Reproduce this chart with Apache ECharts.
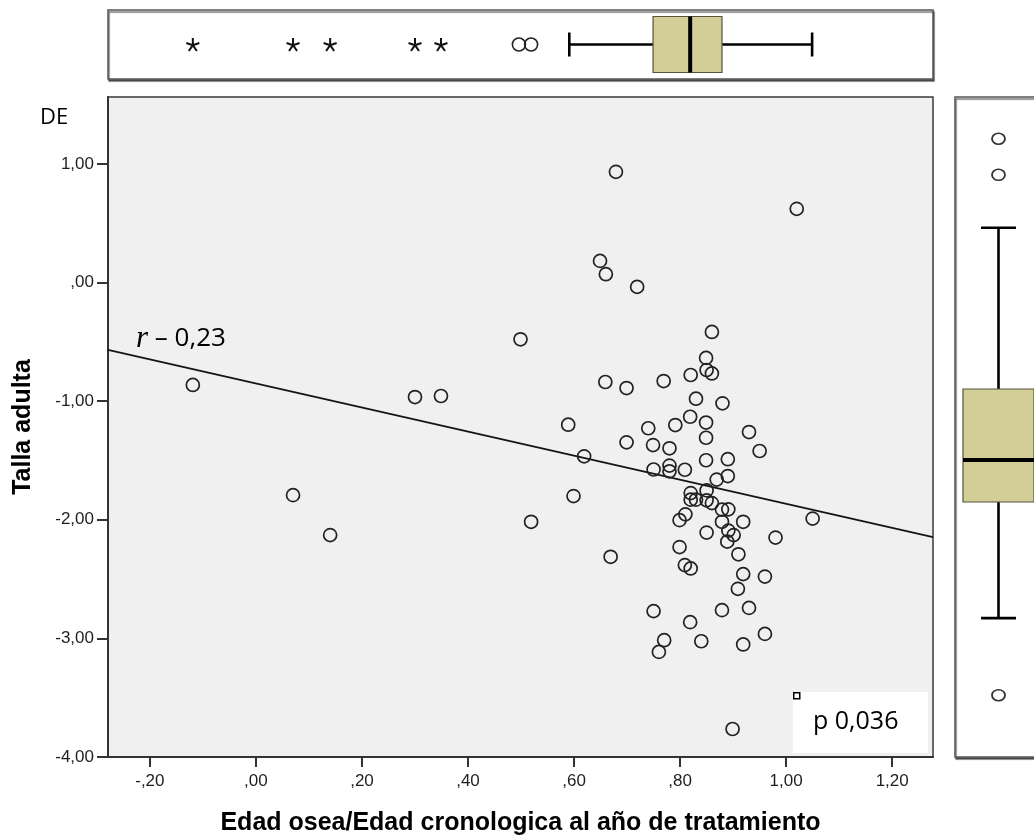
<!DOCTYPE html>
<html>
<head>
<meta charset="utf-8">
<script src="https://cdn.jsdelivr.net/npm/echarts@6/dist/echarts.min.js"></script>
<style>
html,body{margin:0;padding:0;background:#fff;}
#chart{width:1034px;height:840px;}
</style>
</head>
<body>
<div id="chart"></div>
<script>
// ---- data ----
const xTickValues = [-0.2, 0, 0.2, 0.4, 0.6, 0.8, 1.0, 1.2];
const xTickLabels = ['-,20', ',00', ',20', ',40', ',60', ',80', '1,00', '1,20'];
const yTickValues = [-4, -3, -2, -1, 0, 1];
const yTickLabels = ['-4,00', '-3,00', '-2,00', '-1,00', ',00', '1,00'];

const scatterX = [-0.119,0.070,0.140,0.300,0.349,0.499,0.519,0.589,0.599,0.619,0.679,0.649,0.660,0.719,0.659,0.699,0.699,0.669,0.769,0.860,0.849,0.850,0.860,0.820,0.830,0.880,0.819,0.849,0.791,0.740,0.930,0.950,0.749,0.780,0.849,0.849,0.890,0.750,0.780,0.780,0.809,0.890,0.869,1.020,0.820,0.850,0.820,0.830,0.850,0.860,0.879,0.891,0.810,0.799,0.879,0.919,1.050,0.850,0.891,0.901,0.889,0.980,0.799,0.910,0.809,0.820,0.919,0.960,0.909,0.750,0.879,0.930,0.819,0.770,0.760,0.840,0.919,0.960,0.899];
const scatterY = [-0.863,-1.792,-2.129,-0.965,-0.956,-0.478,-2.017,-1.198,-1.800,-1.465,0.934,0.183,0.071,-0.036,-0.838,-0.889,-1.347,-2.312,-0.830,-0.416,-0.635,-0.737,-0.766,-0.779,-0.979,-1.018,-1.131,-1.180,-1.201,-1.228,-1.260,-1.420,-1.370,-1.397,-1.308,-1.498,-1.489,-1.576,-1.543,-1.591,-1.578,-1.631,-1.661,0.622,-1.775,-1.752,-1.830,-1.830,-1.836,-1.859,-1.914,-1.912,-1.954,-2.003,-2.017,-2.017,-1.990,-2.108,-2.091,-2.129,-2.184,-2.150,-2.230,-2.291,-2.382,-2.410,-2.458,-2.479,-2.582,-2.770,-2.762,-2.743,-2.863,-3.015,-3.114,-3.024,-3.051,-2.962,-3.764];

// fit line end points (r = -0,23)
const fitLine = [[-0.279, -0.568], [1.277, -2.146]];

// marginal box plots: [lowWhisker, Q1, median, Q3, highWhisker]
const topBox = [0.591, 0.749, 0.819, 0.879, 1.049];
const topOutliers = [0.496, 0.519];
const topExtremes = [-0.119, 0.070, 0.140, 0.300, 0.349];
const rightBox = [-2.829, -1.850, -1.496, -0.897, 0.462];
const rightOutliers = [1.213, 0.909, -3.479];

const xLabel = 'Edad osea/Edad cronologica al año de tratamiento';
const yLabel = 'Talla adulta';

// ---- chart ----
const X_MIN = -0.279, X_MAX = 1.277, Y_MIN = -4, Y_MAX = 1.565;
const BOX_FILL = '#D3CE97';
const starPath = 'path://M0,0L0,-5M0,0L4.76,-1.55M0,0L2.94,4.05M0,0L-2.94,4.05M0,0L-4.76,-1.55';

function fmt(vals, labels) {
  return function (v) {
    const i = vals.findIndex(t => Math.abs(t - v) < 1e-6);
    return i >= 0 ? labels[i] : '';
  };
}

function boxRender(horizontal) {
  return function (params, api) {
    const cat = api.value(0);
    const v = [1, 2, 3, 4, 5].map(i => api.value(i));
    const P = v.map(val => horizontal ? api.coord([val, cat]) : api.coord([cat, val]));
    const half = horizontal ? 28 : 35.5;
    const cap = horizontal ? 12 : 17.5;
    const ls = { stroke: '#000', lineWidth: 2.6 };
    const kids = [];
    if (horizontal) {
      const cy = P[0][1];
      kids.push({ type: 'line', shape: { x1: P[0][0], y1: cy, x2: P[1][0], y2: cy }, style: ls });
      kids.push({ type: 'line', shape: { x1: P[3][0], y1: cy, x2: P[4][0], y2: cy }, style: ls });
      kids.push({ type: 'line', shape: { x1: P[0][0], y1: cy - cap, x2: P[0][0], y2: cy + cap }, style: ls });
      kids.push({ type: 'line', shape: { x1: P[4][0], y1: cy - cap, x2: P[4][0], y2: cy + cap }, style: ls });
      kids.push({ type: 'rect', shape: { x: P[1][0], y: cy - half, width: P[3][0] - P[1][0], height: 2 * half },
        style: { fill: BOX_FILL, stroke: '#55533c', lineWidth: 1.2 } });
      kids.push({ type: 'line', shape: { x1: P[2][0], y1: cy - half, x2: P[2][0], y2: cy + half }, style: { stroke: '#000', lineWidth: 4 } });
    } else {
      const cx = P[0][0];
      kids.push({ type: 'line', shape: { x1: cx, y1: P[0][1], x2: cx, y2: P[1][1] }, style: ls });
      kids.push({ type: 'line', shape: { x1: cx, y1: P[3][1], x2: cx, y2: P[4][1] }, style: ls });
      kids.push({ type: 'line', shape: { x1: cx - cap, y1: P[0][1], x2: cx + cap, y2: P[0][1] }, style: ls });
      kids.push({ type: 'line', shape: { x1: cx - cap, y1: P[4][1], x2: cx + cap, y2: P[4][1] }, style: ls });
      kids.push({ type: 'rect', shape: { x: cx - half, y: P[3][1], width: 2 * half, height: P[1][1] - P[3][1] },
        style: { fill: BOX_FILL, stroke: '#55533c', lineWidth: 1.2 } });
      kids.push({ type: 'line', shape: { x1: cx - half, y1: P[2][1], x2: cx + half, y2: P[2][1] }, style: { stroke: '#000', lineWidth: 4 } });
    }
    return { type: 'group', children: kids };
  };
}

const chart = echarts.init(document.getElementById('chart'), null, { renderer: 'canvas' });
const axisFont = { fontFamily: 'Liberation Sans, Arial, sans-serif', fontSize: 17, color: '#1e1e1e' };
const titleFont = { fontFamily: 'Liberation Sans, Arial, sans-serif', fontSize: 25, fontWeight: 'bold', color: '#000' };

const option = {
  animation: false,
  backgroundColor: '#ffffff',
  grid: [
    { left: 108, top: 97, width: 825, height: 660, show: true, backgroundColor: '#F0F0F0', borderColor: '#3a3a3a', borderWidth: 1.5,
      outerBoundsMode: 'none' },
    { left: 108, top: 10, width: 825, height: 69, show: true, backgroundColor: '#ffffff', borderColor: '#555', borderWidth: 1.5,
      shadowColor: 'rgba(0,0,0,0.55)', shadowOffsetX: 1, shadowOffsetY: 2, shadowBlur: 1, outerBoundsMode: 'none' },
    { left: 955, top: 97, width: 87, height: 660, show: true, backgroundColor: '#ffffff', borderColor: '#555', borderWidth: 1.5,
      shadowColor: 'rgba(0,0,0,0.55)', shadowOffsetX: 1, shadowOffsetY: 2, shadowBlur: 1, outerBoundsMode: 'none' }
  ],
  xAxis: [
    { gridIndex: 0, type: 'value', min: X_MIN, max: X_MAX,
      name: xLabel, nameLocation: 'middle', nameGap: 54, nameTextStyle: titleFont,
      axisLine: { show: true, onZero: false, lineStyle: { color: '#333', width: 2 } },
      axisTick: { show: true, length: 10, customValues: xTickValues, lineStyle: { color: '#333', width: 2 } },
      axisLabel: Object.assign({ customValues: xTickValues, margin: 16, formatter: fmt(xTickValues, xTickLabels) }, axisFont),
      splitLine: { show: false } },
    { gridIndex: 1, type: 'value', min: X_MIN, max: X_MAX, show: false, splitLine: { show: false } },
    { gridIndex: 2, type: 'category', data: [''], show: false }
  ],
  yAxis: [
    { gridIndex: 0, type: 'value', min: Y_MIN, max: Y_MAX,
      name: yLabel, nameLocation: 'middle', nameGap: 72, nameRotate: 90, nameTextStyle: titleFont,
      axisLine: { show: true, onZero: false, lineStyle: { color: '#333', width: 2 } },
      axisTick: { show: true, length: 11, customValues: yTickValues, lineStyle: { color: '#333', width: 2 } },
      axisLabel: Object.assign({ customValues: yTickValues, margin: 14, formatter: fmt(yTickValues, yTickLabels) }, axisFont),
      splitLine: { show: false } },
    { gridIndex: 1, type: 'category', data: [''], show: false },
    { gridIndex: 2, type: 'value', min: Y_MIN, max: Y_MAX, show: false, splitLine: { show: false } }
  ],
  series: [
    { type: 'line', xAxisIndex: 0, yAxisIndex: 0, data: fitLine, showSymbol: false, symbol: 'none',
      lineStyle: { color: '#151515', width: 1.8 }, z: 2, silent: true },
    { type: 'scatter', xAxisIndex: 0, yAxisIndex: 0,
      data: scatterX.map((x, i) => [x, scatterY[i]]),
      symbol: 'circle', symbolSize: 13,
      itemStyle: { color: 'rgba(0,0,0,0)', borderColor: '#222', borderWidth: 1.7, opacity: 1 }, z: 3 },
    { type: 'custom', xAxisIndex: 1, yAxisIndex: 1, renderItem: boxRender(true),
      encode: { y: 0, x: [1, 2, 3, 4, 5] }, data: [[0].concat(topBox)], z: 3 },
    { type: 'scatter', xAxisIndex: 1, yAxisIndex: 1, data: topOutliers.map(x => [x, 0]),
      symbol: 'circle', symbolSize: 13,
      itemStyle: { color: 'rgba(0,0,0,0)', borderColor: '#222', borderWidth: 1.6, opacity: 1 }, z: 4 },
    { type: 'scatter', xAxisIndex: 1, yAxisIndex: 1, data: topExtremes.map(x => [x, 0]),
      symbol: starPath, symbolSize: 13,
      itemStyle: { color: 'rgba(0,0,0,0)', borderColor: '#111', borderWidth: 2, opacity: 1 }, z: 4 },
    { type: 'custom', xAxisIndex: 2, yAxisIndex: 2, renderItem: boxRender(false),
      encode: { x: 0, y: [1, 2, 3, 4, 5] }, data: [[0].concat(rightBox)], z: 3 },
    { type: 'scatter', xAxisIndex: 2, yAxisIndex: 2, data: rightOutliers.map(y => [0, y]),
      symbol: 'circle', symbolSize: [13, 11],
      itemStyle: { color: 'rgba(0,0,0,0)', borderColor: '#333', borderWidth: 1.7, opacity: 1 }, z: 4 }
  ],
  graphic: [
    { type: 'text', left: 40, top: 107, z: 10,
      style: { text: 'DE', font: '22px "Open Sans", sans-serif', fill: '#000' } },
    { type: 'text', left: 136, top: 323, z: 10,
      style: { text: '{it|r} – 0,23', font: '26px "Open Sans", sans-serif', fill: '#000',
        rich: { it: { fontFamily: 'Liberation Serif, serif', fontStyle: 'italic', fontSize: 31, fill: '#000' } } } },
    { type: 'rect', left: 793, top: 692, z: 10,
      shape: { width: 135, height: 61 }, style: { fill: '#ffffff' } },
    { type: 'rect', left: 793, top: 692, z: 11,
      shape: { width: 6, height: 6 }, style: { fill: '#ffffff', stroke: '#000', lineWidth: 1.5 } },
    { type: 'text', left: 813, top: 709, z: 11,
      style: { text: 'p 0,036', font: '25px "Open Sans", sans-serif', fill: '#000' } }
  ]
};
chart.setOption(option);
</script>
</body>
</html>
